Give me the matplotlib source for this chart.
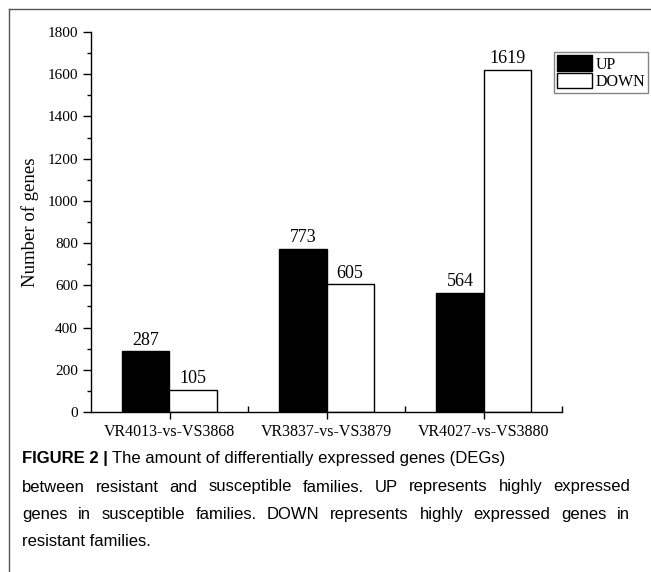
import matplotlib
matplotlib.use("Agg")
import matplotlib.pyplot as plt
from matplotlib.lines import Line2D
import numpy as np

# Data
groups = ["VR4013-vs-VS3868", "VR3837-vs-VS3879", "VR4027-vs-VS3880"]
up = [287, 773, 564]
down = [105, 605, 1619]

caption_bold = "FIGURE 2 | "
caption_rest = "The amount of differentially expressed genes (DEGs)"
# lines that are justified to the full column width, then the last line
caption_justified = [
    "between resistant and susceptible families. UP represents highly expressed",
    "genes in susceptible families. DOWN represents highly expressed genes in",
]
caption_last = "resistant families."

W, H = 651, 572
fig = plt.figure(figsize=(W / 100, H / 100), dpi=100)

# axes box in pixels: left 91, right 562, top 32, bottom 412
ax = fig.add_axes([91 / W, 1 - 412 / H, (562 - 91) / W, (412 - 32) / H])

x = np.arange(1, len(groups) + 1)
bw = 0.30
b_up = ax.bar(x - bw / 2, up, bw, color="black", edgecolor="black", linewidth=1, label="UP")
b_dn = ax.bar(x + bw / 2, down, bw, color="white", edgecolor="black", linewidth=1, label="DOWN")

serif = "Liberation Serif"
ax.bar_label(b_up, padding=2, fontsize=13, family=serif)
ax.bar_label(b_dn, padding=2, fontsize=13, family=serif)

ax.set_xlim(0.5, 3.5)
ax.set_ylim(0, 1800)
ax.set_yticks(np.arange(0, 1801, 200))
ax.set_yticks(np.arange(100, 1800, 200), minor=True)
ax.set_xticks(x)
ax.set_xticks([1.5, 2.5, 3.5], minor=True)
ax.set_xticklabels(groups, family=serif, fontsize=11.5)
for lab in ax.get_yticklabels():
    lab.set_family(serif)
    lab.set_fontsize(11)

ax.tick_params(axis="y", which="major", direction="out", length=6, width=1)
ax.tick_params(axis="y", which="minor", direction="out", length=3, width=1)
ax.tick_params(axis="x", which="major", direction="out", length=5, width=1, pad=4)
ax.tick_params(axis="x", which="minor", direction="in", length=4, width=1)

for s in ["top", "right"]:
    ax.spines[s].set_visible(False)
for s in ["left", "bottom"]:
    ax.spines[s].set_linewidth(1)

ax.set_ylabel("Number of genes", family=serif, fontsize=13.5, labelpad=6)

leg = ax.legend(loc="upper left", bbox_to_anchor=((554 - 91) / (562 - 91), 1 - (52 - 32) / (412 - 32)),
                bbox_transform=ax.transAxes, prop={"family": serif, "size": 11.5},
                frameon=True, fancybox=False, borderpad=0.2, handlelength=2.2, handleheight=1.15,
                handletextpad=0.2, labelspacing=0.0, borderaxespad=0)
leg.get_frame().set_edgecolor("#666666")
leg.get_frame().set_linewidth(1)

# frame around the figure panel
fig.add_artist(Line2D([9 / W, 1], [1 - 9 / H, 1 - 9 / H], color="#555555", linewidth=1))
fig.add_artist(Line2D([9 / W, 9 / W], [0, 1 - 9 / H], color="#555555", linewidth=1))

# caption
sans = "Liberation Sans"
csize = 12
left_px, right_px = 22, 630
renderer = fig.canvas.get_renderer()

t = fig.text(left_px / W, 1 - 459 / H, caption_bold, family=sans, weight="bold", fontsize=csize, va="center")
bb = t.get_window_extent(renderer)
fig.text(bb.x1 / W, 1 - 459 / H, caption_rest, family=sans, fontsize=csize, va="center")

y_px = 487
for line in caption_justified:
    words = line.split()
    arts = [fig.text(0, 1 - y_px / H, w, family=sans, fontsize=csize, va="center") for w in words]
    widths = [a.get_window_extent(renderer).width for a in arts]
    gap = (right_px - left_px - sum(widths)) / (len(words) - 1)
    xpos = left_px
    for a, wd in zip(arts, widths):
        a.set_x(xpos / W)
        xpos += wd + gap
    y_px += 27.5
fig.text(left_px / W, 1 - y_px / H, caption_last, family=sans, fontsize=csize, va="center")

fig.savefig("out.png", dpi=100)
